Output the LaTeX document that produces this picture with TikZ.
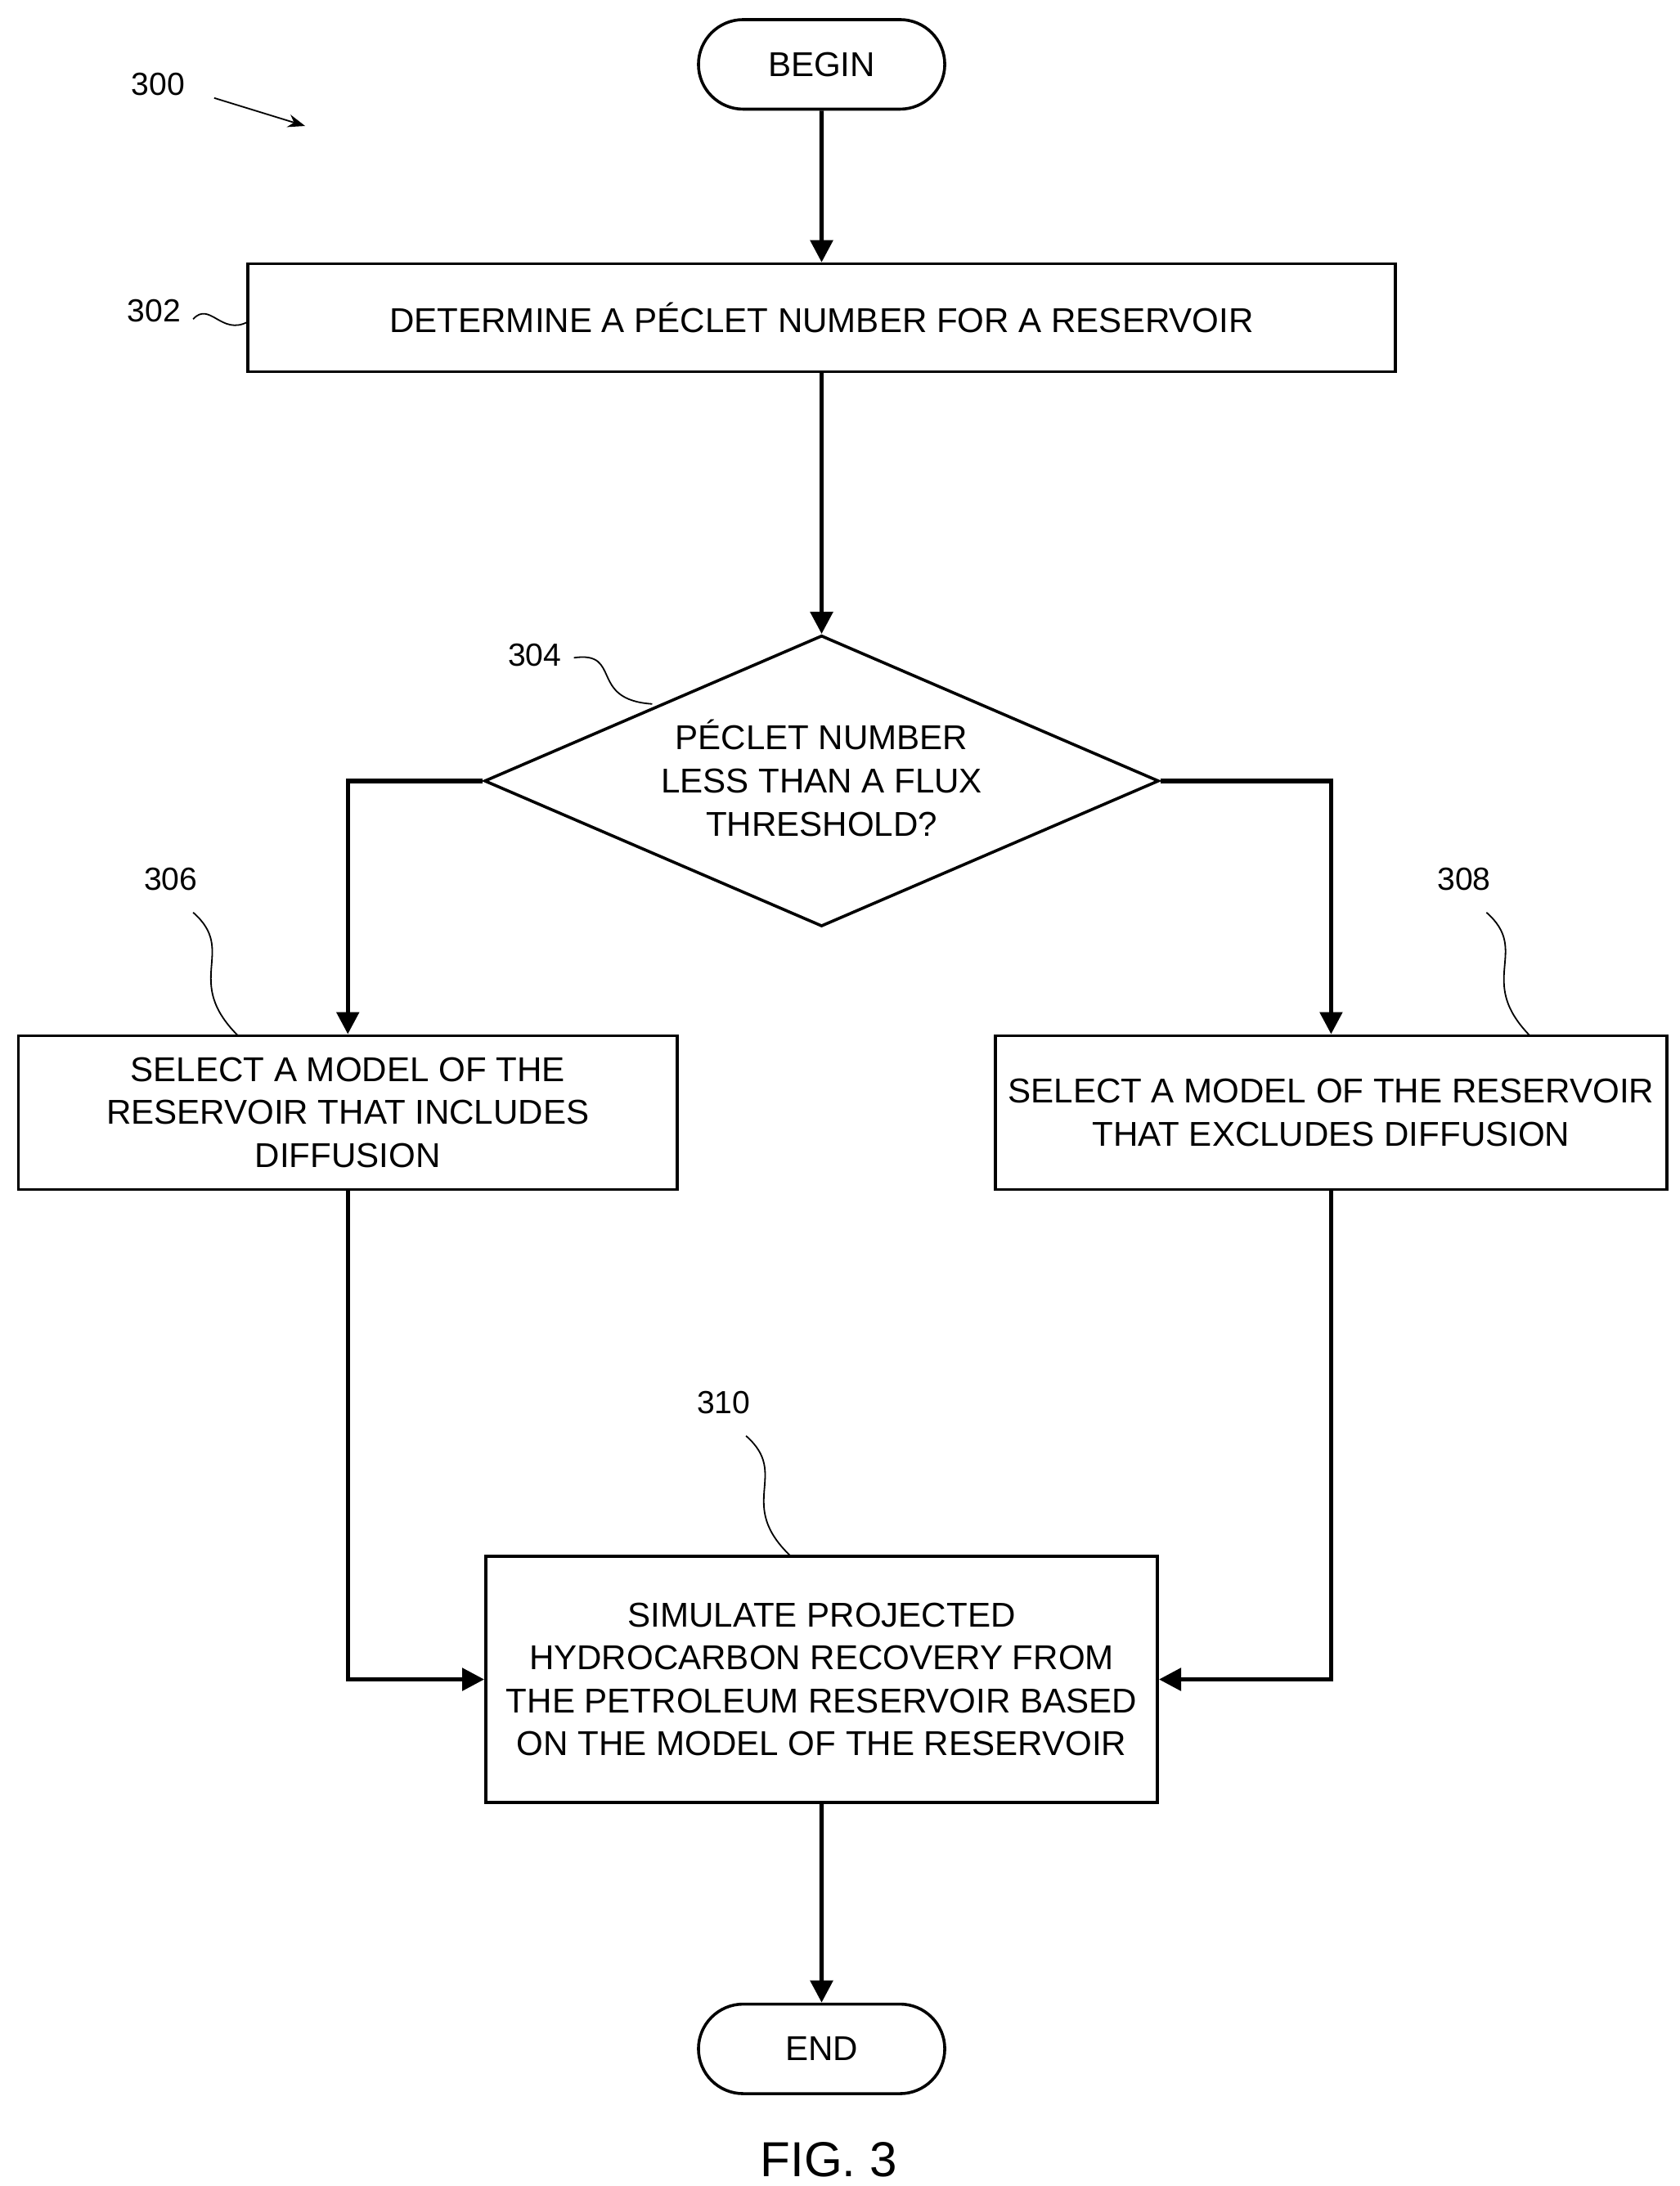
\documentclass[tikz,border=0pt]{standalone}
\usepackage{fontspec}
\setmainfont{Liberation Sans}
\usetikzlibrary{shapes.geometric,shapes.misc,arrows.meta}
\tikzset{
  box/.style={draw,line width=1.2pt,align=center,font=\fontsize{14}{17.5}\selectfont,inner sep=0pt},
  term/.style={box,rounded rectangle,minimum width=3.52cm,minimum height=1.28cm},
  flow/.style={line width=1.8pt,-{Triangle[length=9pt,width=9pt]}},
  ref/.style={font=\fontsize{13}{15}\selectfont},
  lead/.style={line width=0.6pt}
}
\begin{document}
\begin{tikzpicture}[x=0.02cm,y=-0.02cm]
  \useasboundingbox (0,0) rectangle (1200,1562);
  % nodes
  \node[term] (begin) at (587,46) {BEGIN};
  \node[box,minimum width=16.4cm,minimum height=1.54cm] (peclet) at (587,227) {DETERMINE A PÉCLET NUMBER FOR A RESERVOIR};
  \node[box,diamond,minimum width=9.64cm,minimum height=4.16cm,aspect=2.3] (check) at (587,558) {};
  \node[box,draw=none] at (587,556) {PÉCLET NUMBER\\LESS THAN A FLUX\\THRESHOLD?};
  \node[box,minimum width=9.42cm,minimum height=2.2cm] (incl) at (248.5,795) {SELECT A MODEL OF THE\\RESERVOIR THAT INCLUDES\\DIFFUSION};
  \node[box,minimum width=9.6cm,minimum height=2.2cm] (excl) at (951,795) {SELECT A MODEL OF THE RESERVOIR\\THAT EXCLUDES DIFFUSION};
  \node[box,minimum width=9.6cm,minimum height=3.52cm] (sim) at (587,1200) {SIMULATE PROJECTED\\HYDROCARBON RECOVERY FROM\\THE PETROLEUM RESERVOIR BASED\\ON THE MODEL OF THE RESERVOIR};
  \node[term] (end) at (587,1464) {END};
  \node[font=\fontsize{20}{24}\selectfont] (fig) at (592,1543) {FIG. 3};
  % connectors
  \draw[flow] (begin) -- (peclet);
  \draw[flow] (peclet) -- (check);
  \draw[flow] (check.west) -| (incl.north);
  \draw[flow] (check.east) -| (excl.north);
  \draw[flow] (incl.south) |- (sim.west);
  \draw[flow] (excl.south) |- (sim.east);
  \draw[flow] (sim) -- (end);
  % reference labels
  \node[ref] (r300) at (113,60) {300};
  \draw[lead,-{Stealth[length=7pt]}] (153,70) -- (218,90);
  \node[ref] (r302) at (110,222) {302};
  \draw[lead] (138,228) .. controls (150,215) and (158,240) .. (177,230);
  \node[ref] (r304) at (382,468) {304};
  \draw[lead] (410,470) .. controls (445,465) and (420,500) .. (466,503);
  \node[ref] (r306) at (122,628) {306};
  \draw[lead] (138,652) .. controls (170,680) and (130,700) .. (170,740);
  \node[ref] (r308) at (1046,628) {308};
  \draw[lead] (1062,652) .. controls (1094,680) and (1054,700) .. (1093,740);
  \node[ref] (r310) at (517,1002) {310};
  \draw[lead] (533,1026) .. controls (565,1054) and (525,1074) .. (565,1112);
\end{tikzpicture}
\end{document}
